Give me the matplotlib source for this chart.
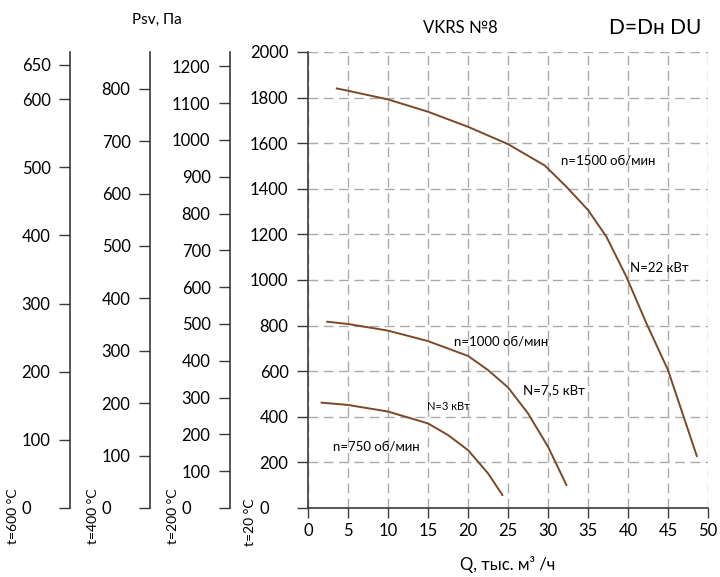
import matplotlib
matplotlib.use("Agg")
import matplotlib.pyplot as plt
from matplotlib.ticker import FuncFormatter

plt.rcParams['font.family'] = ['Lato', 'Open Sans', 'DejaVu Sans']

# --------------------------------------------------------------------------- #
# data (Q in thousand m3/h, Psv in Pa at t=20 C)
# --------------------------------------------------------------------------- #
q_1500 = [3.6, 5, 10, 15, 20, 25, 29.6, 32.3, 35, 37.3, 39.8, 42.3, 45, 48.6]
p_1500 = [1840, 1830, 1792, 1738, 1672, 1596, 1502, 1409, 1307, 1190, 1014, 810, 605, 228]

q_1000 = [2.4, 5, 10, 15, 20, 22.5, 25, 27.5, 30, 32.3]
p_1000 = [817, 807, 778, 732, 667, 605, 529, 415, 269, 101]

q_750 = [1.7, 5, 10, 15, 17.5, 20, 22.5, 24.3]
p_750 = [462, 452, 423, 371, 320, 254, 152, 57]

labels = [
    ("n=1500 об/мин", 37.5, 1526, 9.5),
    ("N=22 кВт", 43.9, 1053, 9.5),
    ("n=1000 об/мин", 24.2, 730, 9.5),
    ("N=7,5 кВт", 30.7, 518, 9.5),
    ("N=3 кВт", 17.5, 447, 8),
    ("n=750 об/мин", 8.6, 269, 9.5),
]

x_ticks = list(range(0, 51, 5))
y_ticks = list(range(0, 2001, 200))

# side scales for hot gas: (temperature label, axis top, tick values)
side_scales = [
    ("t=600 °C", 669, [0, 100, 200, 300, 400, 500, 600, 650]),
    ("t=400 °C", 870, [0, 100, 200, 300, 400, 500, 600, 700, 800]),
    ("t=200 °C", 1239, list(range(0, 1201, 100))),
]

W, H = 720, 577
LINE = "#7a4a28"
SPINE = "#3a3a3a"
GRID = "#ababab"


def _fmt(v, pos):
    # the zero label sits left-aligned with the three-digit labels
    return "0\u2007\u2007" if v == 0 else f"{v:g}"


fig = plt.figure(figsize=(W / 100, H / 100), dpi=100)

# main chart
x0, x1, ytop, ybot = 308, 708, 52, 508
ax = fig.add_axes([x0 / W, 1 - ybot / H, (x1 - x0) / W, (ybot - ytop) / H])
ax.set_xlim(0, 50)
ax.set_ylim(0, 2000)
ax.set_xticks(x_ticks)
ax.set_yticks(y_ticks)
ax.yaxis.set_major_formatter(FuncFormatter(_fmt))
ax.grid(True, color=GRID, linestyle=(0, (7, 4)), linewidth=1)
ax.set_axisbelow(True)
for s in ("top", "right"):
    ax.spines[s].set_visible(False)
for s in ("left", "bottom"):
    ax.spines[s].set_color(SPINE)
    ax.spines[s].set_linewidth(1.2)
ax.tick_params(axis="y", direction="out", length=8, width=1, color=SPINE,
               labelsize=12, pad=6)
ax.tick_params(axis="x", direction="out", length=7, width=1, color=SPINE,
               labelsize=12, pad=4)

for q, p in ((q_1500, p_1500), (q_1000, p_1000), (q_750, p_750)):
    ax.plot(q, p, color=LINE, linewidth=1.4, clip_on=False)
for txt, x, y, fs in labels:
    ax.text(x, y, txt, fontsize=fs, ha="center", va="center")

ax.set_xlabel("Q, тыс. м³ /ч", fontsize=12, labelpad=12)

# extra pressure scales on the left
for (tlabel, top, ticks), px in zip(side_scales, (70, 150, 230)):
    sa = fig.add_axes([px / W, 1 - ybot / H, 0.0005, (ybot - ytop) / H])
    sa.set_ylim(0, top)
    sa.set_yticks(ticks)
    sa.yaxis.set_major_formatter(FuncFormatter(_fmt))
    sa.set_xticks([])
    sa.patch.set_visible(False)
    for s in ("top", "right", "bottom"):
        sa.spines[s].set_visible(False)
    sa.spines["left"].set_color(SPINE)
    sa.spines["left"].set_linewidth(1.2)
    sa.tick_params(axis="y", direction="out", length=8, width=1, color=SPINE,
                   labelsize=12, pad=6)
    fig.text((px - 57) / W, 1 - 516 / H, tlabel, rotation=90, fontsize=10,
             ha="center", va="center")

fig.text(250 / W, 1 - 522 / H, "t=20 °C", rotation=90, fontsize=10,
         ha="center", va="center")
fig.text(157 / W, 1 - 20 / H, "Psv, Па", fontsize=11, ha="center", va="center")
fig.text(460 / W, 1 - 28 / H, "VKRS №8", fontsize=12, ha="center", va="center")
fig.text(655 / W, 1 - 28 / H, "D=Dн DU", fontsize=15, ha="center", va="center")

fig.savefig("out.png", dpi=100, facecolor="white")
